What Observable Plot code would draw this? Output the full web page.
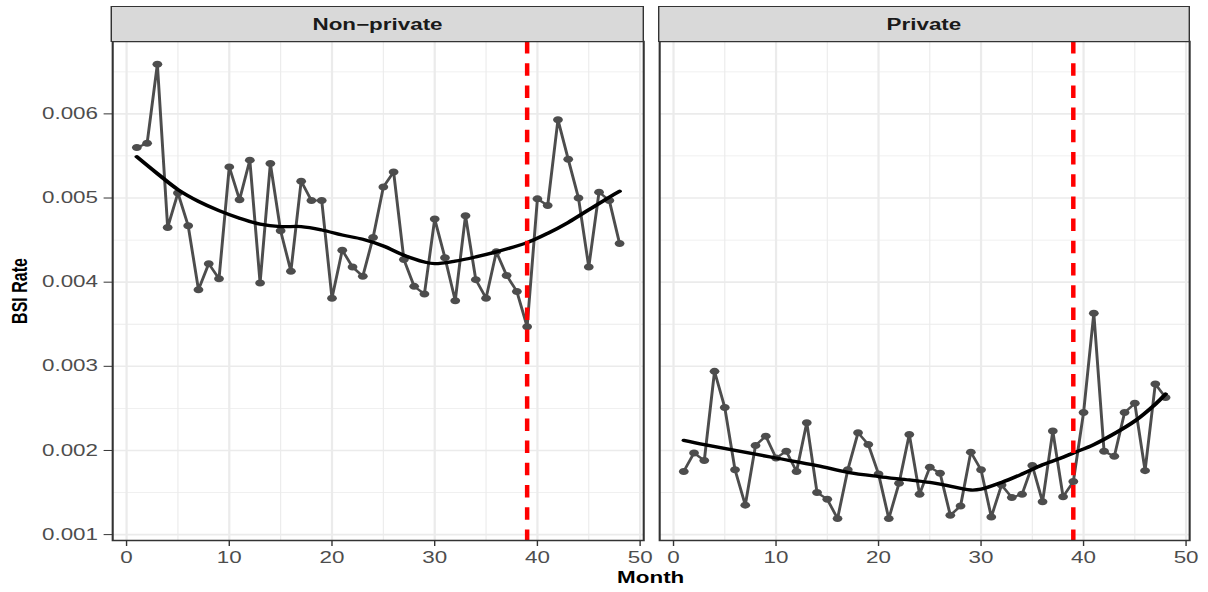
<!DOCTYPE html>
<html>
<head>
<meta charset="utf-8">
<script src="https://cdn.jsdelivr.net/npm/d3@7"></script>
<script src="https://cdn.jsdelivr.net/npm/@observablehq/plot@0.6"></script>
<style>
  body { margin: 0; background: #fff; }
  #wrap { position: relative; width: 862.86px; height: 592px; transform: scaleX(1.4); transform-origin: 0 0;
          font-family: "Liberation Sans", Arial, sans-serif; overflow: visible; }
  .panel { position: absolute; top: 0; }
  .strip { position: absolute; top: 5.5px; height: 36px; background: #d9d9d9; border: 1.5px solid #333; box-sizing: border-box; }
  .striptext { position: absolute; top: 17px; line-height: 16px; font-size: 16px; font-weight: bold; color: #1a1a1a; text-align: center; white-space: nowrap; }
  .xlab { position: absolute; top: 570px; line-height: 16px; font-size: 16px; font-weight: bold; color: #000; text-align: center; white-space: nowrap; }
  .ylab { position: absolute; line-height: 16px; font-size: 16px; font-weight: bold; color: #000; text-align: center; white-space: nowrap; transform: rotate(-90deg); }
  svg [aria-label$="tick"] { stroke: #333; }
</style>
</head>
<body>
<div id="wrap"></div>
<script>
// ---- data ----
const months = [1,2,3,4,5,6,7,8,9,10,11,12,13,14,15,16,17,18,19,20,21,22,23,24,
                25,26,27,28,29,30,31,32,33,34,35,36,37,38,39,40,41,42,43,44,45,46,47,48];
const nonPrivateRate = [0.00560,0.00565,0.00659,0.00465,0.00506,0.00467,0.00391,0.00422,0.00404,0.00537,0.00498,0.00545,
                        0.00399,0.00541,0.00461,0.00413,0.00520,0.00497,0.00497,0.00381,0.00438,0.00418,0.00407,0.00453,
                        0.00513,0.00531,0.00427,0.00395,0.00386,0.00475,0.00429,0.00378,0.00479,0.00403,0.00381,0.00436,
                        0.00408,0.00389,0.00347,0.00499,0.00491,0.00593,0.00546,0.00500,0.00418,0.00507,0.00497,0.00446];
const privateRate = [0.00175,0.00197,0.00188,0.00294,0.00251,0.00177,0.00135,0.00206,0.00217,0.00191,0.00199,0.00175,
                     0.00233,0.00150,0.00142,0.00119,0.00177,0.00221,0.00207,0.00172,0.00119,0.00161,0.00219,0.00148,
                     0.00180,0.00173,0.00123,0.00134,0.00198,0.00177,0.00121,0.00159,0.00144,0.00148,0.00182,0.00139,
                     0.00223,0.00145,0.00163,0.00245,0.00363,0.00199,0.00193,0.00245,0.00256,0.00176,0.00279,0.00263];
// smoothed (loess) curves
const nonPrivateSmoothMonth = [1,3,5,7,9,11,13,15,17,19,21,23,25,27,29,30,32,34,36,39,41,43,45,47,48];
const nonPrivateSmoothRate  = [0.00549,0.00529,0.00510,0.00496,0.00485,0.00476,0.00469,0.00466,0.00466,0.00462,0.00456,0.00451,
                               0.00443,0.00432,0.00424,0.00422,0.00425,0.00430,0.00436,0.00447,0.00458,0.00471,0.00486,0.00501,0.00508];
const privateSmoothMonth = [1,3,6,10,14,17,20,23,25,26,29,30,32,34,36,38,39,41,43,45,47,48];
const privateSmoothRate  = [0.00212,0.00207,0.00200,0.00191,0.00182,0.00174,0.00169,0.00165,0.00162,0.00160,0.00153,0.00154,
                            0.00162,0.00172,0.00183,0.00192,0.00197,0.00207,0.00220,0.00235,0.00255,0.00267];
const panelNames = ["Non\u2212private", "Private"];
const cutoffMonth = 39;
const xTicks = [0,10,20,30,40,50];
const xMinor = [5,15,25,35,45];
const yTicks = [0.001,0.002,0.003,0.004,0.005,0.006];
const yMinor = [0.0015,0.0025,0.0035,0.0045,0.0055,0.0065];
const xDomain = [-1.35, 50.35];
const yDomain = [0.00093, 0.00686];

// ---- layout (unstretched coordinates; whole figure is stretched by 1.4 horizontally) ----
const wrap = document.getElementById("wrap");
const panels = [
  {name: panelNames[0], rates: nonPrivateRate, sm: nonPrivateSmoothMonth, sv: nonPrivateSmoothRate,
   left: 0, width: 464, marginLeft: 80, marginRight: 4.7, showY: true},
  {name: panelNames[1], rates: privateRate, sm: privateSmoothMonth, sv: privateSmoothRate,
   left: 466, width: 396.86, marginLeft: 4.7, marginRight: 13.6, showY: false}
];

for (const p of panels) {
  const rows = months.map((m, i) => ({month: m, rate: p.rates[i]}));
  const smooth = p.sm.map((m, i) => ({month: m, rate: p.sv[i]}));
  const chart = Plot.plot({
    width: p.width, height: 592,
    marginTop: 41, marginBottom: 52, marginLeft: p.marginLeft, marginRight: p.marginRight,
    style: {fontFamily: "Liberation Sans, Arial, sans-serif", fontSize: "16px", color: "#4d4d4d", background: "transparent", overflow: "visible"},
    x: {domain: xDomain, ticks: xTicks, tickSize: 6, tickPadding: 5, tickFormat: d3.format("d"), label: null},
    y: p.showY
      ? {domain: yDomain, ticks: yTicks, tickSize: 6, tickPadding: 4.5, tickFormat: d3.format(".3f"), label: null}
      : {domain: yDomain, axis: null},
    marks: [
      Plot.ruleY(yMinor, {stroke: "#ebebeb", strokeWidth: 0.8}),
      Plot.ruleX(xMinor, {stroke: "#ebebeb", strokeWidth: 0.8}),
      Plot.ruleY(yTicks, {stroke: "#ebebeb", strokeWidth: 1.6}),
      Plot.ruleX(xTicks, {stroke: "#ebebeb", strokeWidth: 1.6}),
      Plot.line(rows, {x: "month", y: "rate", stroke: "#4d4d4d", strokeWidth: 2.1}),
      Plot.dot(rows, {x: "month", y: "rate", r: 3.5, fill: "#4d4d4d", stroke: null}),
      Plot.line(smooth, {x: "month", y: "rate", stroke: "#000", strokeWidth: 3.3, curve: "catmull-rom"}),
      Plot.ruleX([cutoffMonth], {stroke: "#ff0000", strokeWidth: 3.2, strokeDasharray: "12.5,9.7"}),
      Plot.frame({stroke: "#333", strokeWidth: 1.5})
    ]
  });
  chart.classList.add("panel");
  chart.style.left = p.left + "px";
  chart.style.position = "absolute";
  chart.style.top = "0px";
  wrap.appendChild(chart);

  const x0 = p.left + p.marginLeft;
  const w = p.width - p.marginLeft - p.marginRight;
  const strip = document.createElement("div");
  strip.className = "strip";
  strip.style.left = (x0 - 0.75) + "px";
  strip.style.width = (w + 1.5) + "px";
  wrap.appendChild(strip);
  const st = document.createElement("div");
  st.className = "striptext";
  st.style.left = x0 + "px";
  st.style.width = w + "px";
  st.textContent = p.name;
  wrap.appendChild(st);
}

const xl = document.createElement("div");
xl.className = "xlab";
xl.style.left = (464.8 - 100) + "px";
xl.style.width = "200px";
xl.textContent = "Month";
wrap.appendChild(xl);

const yl = document.createElement("div");
yl.className = "ylab";
yl.style.width = "120px";
yl.style.left = (14 - 60) + "px";
yl.style.top = (290.5 - 8) + "px";
yl.textContent = "BSI Rate";
wrap.appendChild(yl);
</script>
</body>
</html>
